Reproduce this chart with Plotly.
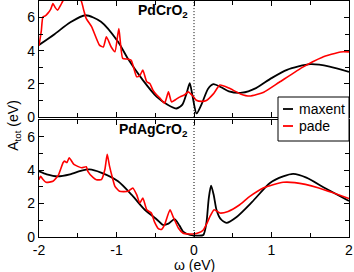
import plotly.graph_objects as go
from plotly.subplots import make_subplots

# Top panel: PdCrO2
top_maxent_x = [-2.0, -1.8, -1.6, -1.4, -1.2, -0.98, -0.85, -0.66, -0.48, -0.34, -0.225, -0.15, -0.096, -0.055, -0.02, 0.033, 0.1, 0.18, 0.25, 0.35, 0.45, 0.62, 0.8, 1.0, 1.2, 1.5, 1.75, 2.0]
top_maxent_y = [4.35, 5.0, 5.7, 6.14, 5.75, 4.54, 3.5, 2.23, 1.22, 0.75, 0.52, 0.75, 1.43, 2.05, 1.3, 0.22, 0.8, 1.7, 1.99, 1.8, 1.55, 1.47, 1.75, 2.35, 2.85, 3.19, 3.05, 2.73]

top_pade_x = [-2.0, -1.97, -1.95, -1.92, -1.89, -1.85, -1.82, -1.79, -1.76, -1.72, -1.68, -1.6, -1.52, -1.455, -1.42, -1.39, -1.32, -1.22, -1.17, -1.13, -1.07, -1.02, -0.97, -0.92, -0.86, -0.81, -0.74, -0.7, -0.66, -0.61, -0.57, -0.53, -0.48, -0.44, -0.38, -0.33, -0.29, -0.24, -0.18, -0.12, -0.075, -0.02, 0.03, 0.1, 0.16, 0.25, 0.335, 0.45, 0.6, 0.72, 0.9, 1.1, 1.41, 1.65, 1.89, 2.0]
top_pade_y = [4.3, 5.2, 6.04, 6.1, 6.24, 6.5, 6.85, 6.6, 6.45, 6.75, 7.1, 7.5, 7.4, 7.0, 6.4, 5.94, 5.44, 4.34, 4.23, 4.84, 4.24, 3.94, 5.34, 3.54, 3.5, 3.43, 2.43, 2.5, 2.83, 2.13, 2.03, 1.63, 1.33, 1.15, 0.83, 1.52, 0.92, 1.05, 1.22, 1.35, 1.52, 1.3, 1.02, 0.95, 1.0, 1.4, 1.93, 1.75, 1.4, 1.27, 1.5, 2.1, 3.03, 3.6, 3.93, 3.93]

# Bottom panel: PdAgCrO2
bot_maxent_x = [-2.0, -1.9, -1.76, -1.6, -1.45, -1.35, -1.2, -0.98, -0.8, -0.635, -0.48, -0.4, -0.33, -0.25, -0.19, -0.14, -0.05, 0.05, 0.12, 0.16, 0.19, 0.22, 0.255, 0.29, 0.34, 0.42, 0.55, 0.75, 0.98, 1.15, 1.28, 1.45, 1.7, 2.0]
bot_maxent_y = [3.93, 3.75, 3.63, 3.75, 3.97, 4.04, 3.85, 3.33, 2.5, 1.63, 1.05, 0.72, 0.8, 1.07, 0.7, 0.32, 0.12, 0.08, 0.12, 0.84, 2.3, 3.07, 2.5, 1.63, 1.1, 0.85, 1.2, 2.1, 3.23, 3.62, 3.77, 3.55, 2.9, 2.15]

bot_pade_x = [-2.0, -1.98, -1.95, -1.91, -1.82, -1.75, -1.69, -1.67, -1.64, -1.61, -1.55, -1.45, -1.39, -1.37, -1.3, -1.26, -1.195, -1.15, -1.12, -1.09, -1.05, -1.02, -0.96, -0.85, -0.79, -0.74, -0.7, -0.66, -0.61, -0.55, -0.51, -0.46, -0.42, -0.38, -0.31, -0.27, -0.2, -0.14, -0.06, -0.01, 0.06, 0.12, 0.17, 0.205, 0.26, 0.335, 0.44, 0.59, 0.72, 0.9, 1.02, 1.15, 1.3, 1.6, 2.0]
bot_pade_y = [3.43, 3.63, 3.45, 3.27, 3.33, 3.7, 4.44, 4.54, 4.45, 4.74, 4.34, 4.14, 4.2, 3.93, 3.55, 3.43, 3.43, 4.04, 4.94, 4.24, 3.5, 3.03, 2.73, 2.73, 2.93, 2.53, 2.03, 2.33, 1.63, 1.43, 0.9, 0.5, 0.45, 0.72, 1.63, 1.22, 0.52, 0.22, 0.18, 0.18, 0.25, 0.42, 0.85, 1.22, 1.63, 1.43, 1.53, 1.93, 2.43, 2.95, 3.13, 3.27, 3.25, 2.95, 2.3]

ytick_vals = [0, 2, 4, 6]
xtick_vals = [-2, -1, 0, 1, 2]
xtick_text = ["-2", "-1", "0", "1", "2"]

FONT = "Liberation Sans, Arial, sans-serif"

fig = make_subplots(rows=2, cols=1, shared_xaxes=True, vertical_spacing=0.012)

def add_pair(mx, my, px, py, row):
    fig.add_trace(go.Scatter(x=mx, y=my, mode="lines", name="maxent",
                             line=dict(color="black", width=1.8, shape="spline", smoothing=0.7),
                             showlegend=False), row=row, col=1)
    fig.add_trace(go.Scatter(x=px, y=py, mode="lines", name="pade",
                             line=dict(color="red", width=1.6, shape="spline", smoothing=0.5),
                             showlegend=False), row=row, col=1)

add_pair(top_maxent_x, top_maxent_y, top_pade_x, top_pade_y, 1)
add_pair(bot_maxent_x, bot_maxent_y, bot_pade_x, bot_pade_y, 2)

axis_common = dict(showline=True, linecolor="black", linewidth=1.2, mirror="ticks",
                   ticks="inside", ticklen=5, tickcolor="black", tickwidth=1,
                   showgrid=False, zeroline=False, automargin=False,
                   tickfont=dict(family=FONT, size=14, color="black"))

for r in (1, 2):
    fig.update_xaxes(range=[-2, 2], tickvals=xtick_vals, ticktext=xtick_text,
                     minor=dict(ticks="inside", dtick=0.5, ticklen=4, tickcolor="black", showgrid=False),
                     showticklabels=(r == 2), row=r, col=1, **axis_common)
    fig.update_yaxes(range=[0, 7], tickvals=ytick_vals,
                     minor=dict(ticks="inside", dtick=1, ticklen=4, tickcolor="black", showgrid=False),
                     row=r, col=1, **axis_common)

fig.update_layout(yaxis=dict(domain=[0.508, 1.0]), yaxis2=dict(domain=[0.0, 0.496]))

# dotted Fermi level lines
for xr, yr in (("x", "y domain"), ("x2", "y2 domain")):
    fig.add_shape(type="line", xref=xr, yref=yr, x0=0, x1=0, y0=0, y1=1,
                  line=dict(color="black", width=1, dash="1px,2px"))

# panel labels
fig.add_annotation(x=-0.05, y=6.4, xref="x", yref="y", xanchor="right", yanchor="middle",
                   text="<b>PdCrO<sub>2</sub></b>", showarrow=False,
                   font=dict(family=FONT, size=14, color="black"))
fig.add_annotation(x=-0.05, y=6.4, xref="x2", yref="y2", xanchor="right", yanchor="middle",
                   text="<b>PdAgCrO<sub>2</sub></b>", showarrow=False,
                   font=dict(family=FONT, size=14, color="black"))

# axis titles
fig.add_annotation(x=-0.081, y=0.475, xref="paper", yref="paper", textangle=-90,
                   xanchor="center", yanchor="middle",
                   text="A<sub>tot</sub> (eV)", showarrow=False,
                   font=dict(family=FONT, size=14, color="black"))
fig.add_annotation(x=0.5, y=-0.118, xref="paper", yref="paper", yanchor="middle",
                   text="ω (eV)", showarrow=False,
                   font=dict(family=FONT, size=14, color="black"))

# manual legend box
def px2x(p):
    return (p - 39) / 310.0

def py2y(p):
    return (237 - p) / 236.0

fig.add_shape(type="rect", xref="paper", yref="paper",
              x0=px2x(278), x1=px2x(349), y0=py2y(141), y1=py2y(97),
              line=dict(color="black", width=1), fillcolor="white", layer="above")
for name, color, ypix in (("maxent", "black", 109), ("pade", "red", 126)):
    fig.add_shape(type="line", xref="paper", yref="paper",
                  x0=px2x(283), x1=px2x(293), y0=py2y(ypix), y1=py2y(ypix),
                  line=dict(color=color, width=1.8), layer="above")
    fig.add_annotation(x=px2x(297), y=py2y(ypix), xref="paper", yref="paper",
                       xanchor="left", yanchor="middle", text=name, showarrow=False,
                       font=dict(family=FONT, size=14, color="black"))

fig.update_layout(width=354, height=272, margin=dict(l=39, r=5, t=1, b=35),
                  plot_bgcolor="white", paper_bgcolor="white", showlegend=False)

fig.write_html("out.html", config={"displayModeBar": False},
               post_script="document.body.style.margin='0';document.body.style.padding='0';")
